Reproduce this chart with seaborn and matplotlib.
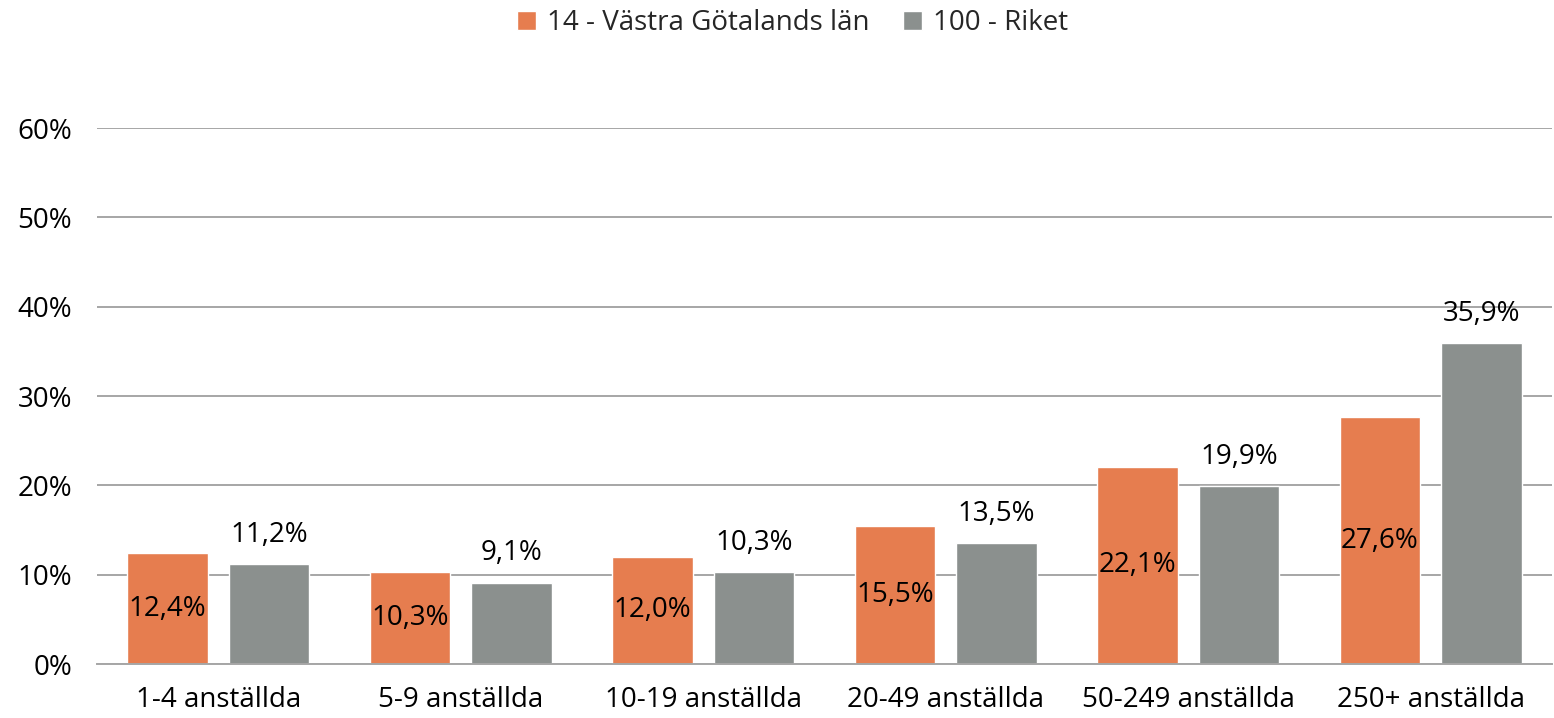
import matplotlib
matplotlib.use("Agg")
import matplotlib.pyplot as plt
import seaborn as sns
import pandas as pd

categories = ["1-4 anställda", "5-9 anställda", "10-19 anställda",
              "20-49 anställda", "50-249 anställda", "250+ anställda"]
vastra_gotaland = [12.4, 10.3, 12.0, 15.5, 22.1, 27.6]
riket = [11.2, 9.1, 10.3, 13.5, 19.9, 35.9]
series_names = ["14 - Västra Götalands län", "100 - Riket"]
y_ticks = [0, 10, 20, 30, 40, 50, 60]

colors = ["#E67D4F", "#8B908E"]
FS = 20

df = pd.DataFrame({
    "Kategori": categories * 2,
    "Andel": vastra_gotaland + riket,
    "Serie": [series_names[0]] * len(categories) + [series_names[1]] * len(categories),
})

sns.set_style("white")
plt.rcParams["font.family"] = ["Open Sans", "DejaVu Sans"]

fig = plt.figure(figsize=(15.54, 7.18), dpi=100)
ax = fig.add_axes([0.0624, 0.0752, 0.9363, 0.7465])

sns.barplot(data=df, x="Kategori", y="Andel", hue="Serie", order=categories,
            hue_order=series_names, palette=colors, width=0.837, gap=0.21,
            saturation=1, errorbar=None, ax=ax, legend=True)

ax.set_ylim(0, 60)
ax.set_xlim(-0.5, len(categories) - 0.5)
ax.set_yticks(y_ticks)
ax.set_yticklabels([f"{v}%" for v in y_ticks], fontsize=FS, color="black")
ax.tick_params(axis="x", labelsize=FS, length=0, pad=16, labelcolor="black")
ax.tick_params(axis="y", length=0, pad=18, labelcolor="black")
ax.set_xlabel("")
ax.set_ylabel("")
ax.grid(axis="y", color="#A6A6A6", linewidth=1.4)
ax.set_axisbelow(True)
for side in ["top", "right", "left"]:
    ax.spines[side].set_visible(False)
ax.spines["bottom"].set_color("#A6A6A6")
ax.spines["bottom"].set_linewidth(1.4)

def fmt(v):
    return f"{v:.1f}%".replace(".", ",")

# first container: labels centred inside bars; second: labels above bars
c_orange, c_gray = ax.containers[0], ax.containers[1]
ax.bar_label(c_orange, labels=[fmt(v) for v in vastra_gotaland],
             label_type="center", fontsize=FS, color="black")
ax.bar_label(c_gray, labels=[fmt(v) for v in riket],
             label_type="edge", padding=11, fontsize=FS, color="black")

handles, labels = ax.get_legend_handles_labels()
ax.legend_.remove()
fig.legend(handles, labels, loc="center", bbox_to_anchor=(0.51, 0.968), ncol=2,
           frameon=False, fontsize=FS, handlelength=0.7, handleheight=0.7,
           handletextpad=0.4, columnspacing=1.2)

fig.savefig("out.png", dpi=100)
